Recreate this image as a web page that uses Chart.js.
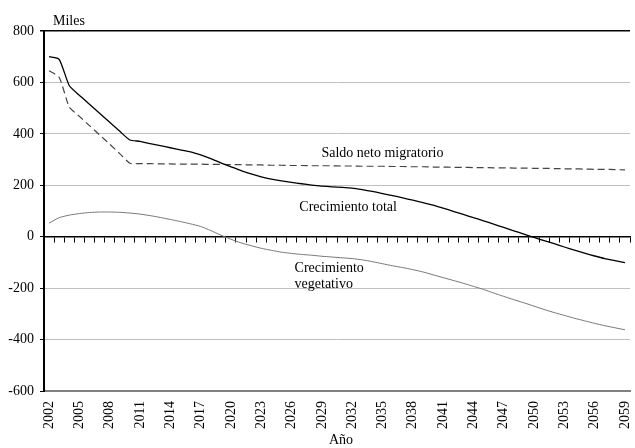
<!DOCTYPE html>
<html>
<head>
<meta charset="utf-8">
<script src="https://cdn.jsdelivr.net/npm/chart.js@4"></script>
<style>
  html, body { margin: 0; padding: 0; background: #fff; }
</style>
</head>
<body>
<canvas id="myChart" width="635" height="448"></canvas>
<script>
// Years on the x axis
const years = [
  "2002", "2003", "2004", "2005", "2006", "2007", "2008", "2009", "2010", "2011",
  "2012", "2013", "2014", "2015", "2016", "2017", "2018", "2019", "2020", "2021",
  "2022", "2023", "2024", "2025", "2026", "2027", "2028", "2029", "2030", "2031",
  "2032", "2033", "2034", "2035", "2036", "2037", "2038", "2039", "2040", "2041",
  "2042", "2043", "2044", "2045", "2046", "2047", "2048", "2049", "2050", "2051",
  "2052", "2053", "2054", "2055", "2056", "2057", "2058", "2059",
];

// Crecimiento total (miles)
const crecimientoTotal = [
  700, 690, 588, 550, 515, 480, 445, 410, 376, 371,
  362, 354, 346, 338, 330, 318, 304, 287, 272, 257,
  244, 233, 224, 217, 211, 206, 201, 197, 194, 192,
  189, 183, 176, 168, 160, 151, 142, 133, 123, 111,
  99, 87, 74, 62, 49, 36, 23, 10, -3, -15,
  -27, -40, -52, -64, -75, -85, -93, -101,
];

// Saldo neto migratorio (miles)
const saldoMigratorio = [
  645, 620, 505, 468, 432, 396, 360, 323, 286, 284,
  284, 283, 283, 282, 282, 282, 281, 281, 280, 280,
  279, 279, 278, 278, 277, 277, 276, 276, 276, 275,
  275, 274, 274, 274, 273, 273, 272, 272, 271, 271,
  270, 270, 269, 269, 268, 268, 267, 267, 266, 266,
  265, 264, 264, 263, 262, 262, 261, 260,
];

// Crecimiento vegetativo (miles)
const crecimientoVegetativo = [
  53, 74, 84, 90, 94, 96, 96, 95, 92, 88,
  82, 75, 67, 59, 50, 40, 24, 6, -10, -24,
  -35, -45, -53, -60, -65, -69, -72, -76, -79, -82,
  -85, -90, -97, -105, -113, -120, -128, -137, -148, -159,
  -170, -181, -193, -205, -219, -232, -245, -257, -270, -283,
  -295, -306, -317, -327, -337, -346, -354, -362,
];

// Y axis range
const yMin = -600;
const yMax = 800;
const yStep = 200;

const FONT = "'Liberation Serif', 'Times New Roman', serif";

// Text labels written inside the plot (index on x axis, value on y axis)
const notes = [
  { text: "Saldo neto migratorio", idx: 33.0, value: 326, align: "center" },
  { text: "Crecimiento total", idx: 29.6, value: 115, align: "center" },
  { text: "Crecimiento", idx: 24.3, value: -124, align: "left" },
  { text: "vegetativo", idx: 24.3, value: -186, align: "left" },
];

const textPlugin = {
  id: "textPlugin",
  afterDraw(chart) {
    const ctx = chart.ctx;
    const area = chart.chartArea;
    const xs = chart.scales.x;
    const ys = chart.scales.y;
    ctx.save();
    ctx.fillStyle = "#000";
    ctx.font = "14px " + FONT;
    ctx.textBaseline = "middle";
    notes.forEach((n) => {
      ctx.textAlign = n.align;
      ctx.fillText(n.text, xs.getPixelForValue(n.idx), ys.getPixelForValue(n.value));
    });
    ctx.textAlign = "left";
    ctx.fillText("Miles", area.left + 9, area.top - 10);
    ctx.textAlign = "center";
    ctx.fillText("Año", (area.left + area.right) / 2 + 4, 440);
    ctx.restore();
  },
};

const ctx = document.getElementById("myChart").getContext("2d");
new Chart(ctx, {
  type: "line",
  data: {
    labels: years,
    datasets: [
      {
        label: "Crecimiento total",
        data: crecimientoTotal,
        borderColor: "#000",
        borderWidth: 1.3,
        pointRadius: 0,
        fill: false,
        tension: 0.2,
      },
      {
        label: "Saldo neto migratorio",
        data: saldoMigratorio,
        borderColor: "#444",
        borderWidth: 1.2,
        borderDash: [7, 4],
        pointRadius: 0,
        fill: false,
        tension: 0.2,
      },
      {
        label: "Crecimiento vegetativo",
        data: crecimientoVegetativo,
        borderColor: "#777",
        borderWidth: 1,
        pointRadius: 0,
        fill: false,
        tension: 0.2,
      },
    ],
  },
  options: {
    responsive: false,
    animation: false,
    layout: { padding: { top: 31, right: 5, bottom: 0, left: 0 } },
    plugins: {
      legend: { display: false },
      tooltip: { enabled: false },
    },
    scales: {
      x: {
        type: "category",
        position: "bottom",
        offset: true,
        grid: { display: false, drawTicks: false },
        border: { display: true, color: "#808080", width: 2 },
        ticks: {
          color: "#000",
          font: { family: FONT, size: 14 },
          minRotation: 90,
          maxRotation: 90,
          padding: 10,
          autoSkip: false,
          callback: function (val, index) {
            return index % 3 === 0 ? this.getLabelForValue(val) : "";
          },
        },
        afterFit(scale) {
          scale.height = 57;
          scale.paddingLeft = 0;
          scale.paddingRight = 0;
        },
      },
      x0: {
        type: "category",
        position: { y: 0 },
        offset: true,
        grid: {
          offset: true,
          drawOnChartArea: false,
          drawTicks: true,
          tickLength: 5,
          color: "#000",
          lineWidth: 1,
        },
        border: { display: true, color: "#000", width: 1.5 },
        ticks: { display: false, autoSkip: false },
        afterFit(scale) {
          scale.paddingLeft = 0;
          scale.paddingRight = 0;
        },
      },
      y: {
        min: yMin,
        max: yMax,
        ticks: {
          stepSize: yStep,
          color: "#000",
          font: { family: FONT, size: 14 },
          padding: 6,
        },
        grid: {
          color: (c) => {
            const v = c.tick ? c.tick.value : null;
            if (v === yMax) return "#000";
            if (v === yMin || v === 0) return "rgba(0,0,0,0)";
            return "#c0c0c0";
          },
          lineWidth: (c) => (c.tick && c.tick.value === yMax ? 1.5 : 1),
          tickColor: "#000",
          tickLength: 4,
        },
        border: { display: true, color: "#000", width: 2 },
        afterFit(scale) {
          scale.width = 44;
          scale.paddingTop = 0;
          scale.paddingBottom = 0;
        },
      },
    },
  },
  plugins: [textPlugin],
});
</script>
</body>
</html>
